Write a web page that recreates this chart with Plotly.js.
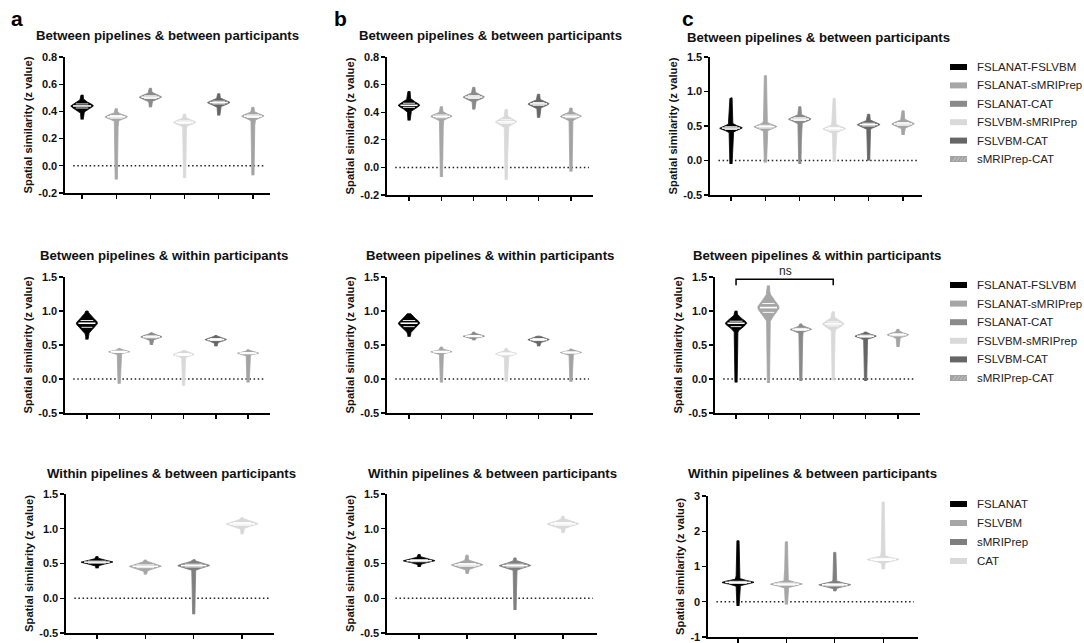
<!DOCTYPE html>
<html>
<head>
<meta charset="utf-8">
<script src="https://cdn.plot.ly/plotly-3.0.1.min.js"></script>
<style>html,body{margin:0;padding:0;background:#fff;}#chart{width:1084px;height:643px;}</style>
</head>
<body>
<div id="chart"></div>
<script>
// ---------------- DATA ----------------
const pairLabels = ["FSLANAT-FSLVBM","FSLANAT-sMRIPrep","FSLANAT-CAT","FSLVBM-sMRIPrep","FSLVBM-CAT","sMRIPrep-CAT"];
const pipelineLabels = ["FSLANAT","FSLVBM","sMRIPrep","CAT"];
const pairColors = ["#000000","#a6a6a6","#8a8a8a","#d9d9d9","#666666","#a3a3a3"];
const pipeColors = ["#000000","#a6a6a6","#7f7f7f","#d9d9d9"];

const titleBB = "Between pipelines & between participants";
const titleBW = "Between pipelines & within participants";
const titleWB = "Within pipelines & between participants";
const yTitle = "Spatial similarity (z value)";
const panelLetters = ["a","b","c"];

const tickVals08 = [-0.2, 0, 0.2, 0.4, 0.6, 0.8];
const tickText08 = ["-0.2","0.0","0.2","0.4","0.6","0.8"];
const tickVals15 = [-0.5, 0, 0.5, 1.0, 1.5];
const tickText15 = ["-0.5","0.0","0.5","1.0","1.5"];
const tickVals3 = [-1, 0, 1, 2, 3];
const tickText3 = ["-1","0","1","2","3"];

// a: between pipelines & between participants
const aBB_med = [0.44, 0.36, 0.505, 0.32, 0.465, 0.365];
const aBB_q1  = [0.425, 0.35, 0.495, 0.31, 0.455, 0.355];
const aBB_q3  = [0.455, 0.37, 0.515, 0.33, 0.475, 0.375];
const aBB_min = [0.34, -0.10, 0.43, -0.09, 0.37, -0.07];
const aBB_max = [0.52, 0.42, 0.57, 0.38, 0.53, 0.43];
// b: between pipelines & between participants
const bBB_med = [0.45, 0.37, 0.51, 0.33, 0.46, 0.37];
const bBB_q1  = [0.435, 0.36, 0.50, 0.32, 0.45, 0.36];
const bBB_q3  = [0.465, 0.38, 0.52, 0.345, 0.47, 0.38];
const bBB_min = [0.34, -0.07, 0.42, -0.09, 0.36, -0.03];
const bBB_max = [0.55, 0.44, 0.58, 0.42, 0.53, 0.43];
// c: between pipelines & between participants
const cBB_med = [0.47, 0.49, 0.60, 0.46, 0.52, 0.53];
const cBB_q1  = [0.45, 0.47, 0.58, 0.44, 0.50, 0.51];
const cBB_q3  = [0.49, 0.51, 0.62, 0.48, 0.54, 0.55];
const cBB_min = [-0.05, -0.03, -0.05, -0.02, 0.0, 0.37];
const cBB_max = [0.91, 1.23, 0.78, 0.90, 0.67, 0.72];

// a: between pipelines & within participants
const aBW_med = [0.82, 0.40, 0.62, 0.36, 0.58, 0.38];
const aBW_q1  = [0.76, 0.39, 0.605, 0.345, 0.565, 0.37];
const aBW_q3  = [0.86, 0.41, 0.635, 0.375, 0.595, 0.39];
const aBW_min = [0.58, -0.07, 0.50, -0.10, 0.48, -0.05];
const aBW_max = [1.00, 0.45, 0.68, 0.42, 0.64, 0.43];
// b
const bBW_med = [0.82, 0.40, 0.63, 0.37, 0.58, 0.39];
const bBW_q1  = [0.77, 0.39, 0.62, 0.355, 0.565, 0.38];
const bBW_q3  = [0.86, 0.41, 0.64, 0.385, 0.595, 0.40];
const bBW_min = [0.62, -0.05, 0.57, -0.04, 0.48, -0.04];
const bBW_max = [0.96, 0.47, 0.69, 0.45, 0.63, 0.44];
// c
const cBW_med = [0.82, 1.05, 0.73, 0.81, 0.63, 0.65];
const cBW_q1  = [0.77, 0.98, 0.715, 0.78, 0.615, 0.635];
const cBW_q3  = [0.85, 1.11, 0.745, 0.84, 0.645, 0.665];
const cBW_min = [-0.05, -0.06, -0.03, -0.02, -0.03, 0.47];
const cBW_max = [1.00, 1.37, 0.81, 0.99, 0.69, 0.73];

// a: within pipelines & between participants
const aWB_med = [0.52, 0.46, 0.47, 1.07];
const aWB_q1  = [0.505, 0.44, 0.45, 1.05];
const aWB_q3  = [0.535, 0.48, 0.49, 1.09];
const aWB_min = [0.43, 0.34, -0.23, 0.92];
const aWB_max = [0.60, 0.55, 0.56, 1.16];
// b
const bWB_med = [0.54, 0.48, 0.47, 1.07];
const bWB_q1  = [0.525, 0.46, 0.45, 1.05];
const bWB_q3  = [0.555, 0.50, 0.49, 1.09];
const bWB_min = [0.45, 0.35, -0.17, 0.94];
const bWB_max = [0.63, 0.62, 0.58, 1.18];
// c
const cWB_med = [0.55, 0.50, 0.48, 1.20];
const cWB_q1  = [0.52, 0.47, 0.45, 1.17];
const cWB_q3  = [0.58, 0.53, 0.51, 1.23];
const cWB_min = [-0.12, -0.08, 0.30, 0.92];
const cWB_max = [1.73, 1.70, 1.40, 2.83];

// ---------------- LAYOUT GEOMETRY (pixels) ----------------
const FW = 1084, FH = 643;
const FONT = "Liberation Sans, Arial, sans-serif";
const fx = p => p / FW;
const fy = p => 1 - p / FH;

const panels = [
  {title:titleBB, cx:167, ty:35, ax:[65,270], ay:[57,193], xr:[-0.5,5.5], yr:[-0.2,0.8], tv:tickVals08, tt:tickText08, cats:pairLabels, cols:pairColors,
   med:aBB_med,q1:aBB_q1,q3:aBB_q3,mn:aBB_min,mx:aBB_max},
  {title:titleBB, cx:490, ty:35, ax:[387,593], ay:[57,195], xr:[-0.68,5.68], yr:[-0.2,0.8], tv:tickVals08, tt:tickText08, cats:pairLabels, cols:pairColors,
   med:bBB_med,q1:bBB_q1,q3:bBB_q3,mn:bBB_min,mx:bBB_max},
  {title:titleBB, cx:818, ty:37, ax:[710,922], ay:[57,195], xr:[-0.61,5.55], yr:[-0.5,1.5], tv:tickVals15, tt:tickText15, cats:pairLabels, cols:pairColors,
   med:cBB_med,q1:cBB_q1,q3:cBB_q3,mn:cBB_min,mx:cBB_max, legend:[67,18.4]},
  {title:titleBW, cx:164, ty:255, ax:[65,270], ay:[277,413], xr:[-0.68,5.68], yr:[-0.5,1.5], tv:tickVals15, tt:tickText15, cats:pairLabels, cols:pairColors,
   med:aBW_med,q1:aBW_q1,q3:aBW_q3,mn:aBW_min,mx:aBW_max},
  {title:titleBW, cx:490, ty:255, ax:[387,593], ay:[277,413], xr:[-0.68,5.68], yr:[-0.5,1.5], tv:tickVals15, tt:tickText15, cats:pairLabels, cols:pairColors,
   med:bBW_med,q1:bBW_q1,q3:bBW_q3,mn:bBW_min,mx:bBW_max},
  {title:titleBW, cx:817, ty:255, ax:[715,920], ay:[277,413], xr:[-0.65,5.68], yr:[-0.5,1.5], tv:tickVals15, tt:tickText15, cats:pairLabels, cols:pairColors,
   med:cBW_med,q1:cBW_q1,q3:cBW_q3,mn:cBW_min,mx:cBW_max, legend:[285,18.6], ns:true},
  {title:titleWB, cx:171, ty:473, ax:[66,274], ay:[494,633], xr:[-0.64,3.66], yr:[-0.5,1.5], tv:tickVals15, tt:tickText15, cats:pipelineLabels, cols:pipeColors,
   med:aWB_med,q1:aWB_q1,q3:aWB_q3,mn:aWB_min,mx:aWB_max},
  {title:titleWB, cx:492, ty:473, ax:[387,597], ay:[494,633], xr:[-0.67,3.71], yr:[-0.5,1.5], tv:tickVals15, tt:tickText15, cats:pipelineLabels, cols:pipeColors,
   med:bWB_med,q1:bWB_q1,q3:bWB_q3,mn:bWB_min,mx:bWB_max},
  {title:titleWB, cx:812, ty:473, ax:[708,918], ay:[496,637], xr:[-0.62,3.72], yr:[-1,3], tv:tickVals3, tt:tickText3, cats:pipelineLabels, cols:pipeColors,
   med:cWB_med,q1:cWB_q1,q3:cWB_q3,mn:cWB_min,mx:cWB_max, legend:[504,19]}
];

const traces = [];
const layout = {
  width: FW, height: FH, margin:{l:0,r:0,t:0,b:0},
  paper_bgcolor:"#fff", plot_bgcolor:"rgba(0,0,0,0)",
  showlegend:false, font:{family:FONT, color:"#000"},
  shapes:[], annotations:[]
};

function violinShape(i, med, q1, q3, mn, mx, spX) {
  const W = 0.33;
  const s0 = 2.0 / spX;
  const sig = Math.max(q3 - q1, 1e-4) / 1.3;
  const hwAt = y => {
    const d = y - med;
    const body = W * Math.exp(-0.5 * Math.pow(Math.abs(d) / sig, 1.8));
    const span = d < 0 ? (med - mn) : (mx - med);
    const tail = s0 * (1 - 0.45 * Math.min(1, Math.abs(d) / Math.max(span, 1e-6)));
    return Math.max(body, tail);
  };
  const ys = [];
  const N = 300;
  for (let k = 0; k <= N; k++) ys.push(mn + (mx - mn) * k / N);
  ys.push(med); ys.sort((a, c) => a - c);
  const xs = [], yy = [];
  ys.forEach(y => { xs.push(i + hwAt(y)); yy.push(y); });
  for (let k = ys.length - 1; k >= 0; k--) { xs.push(i - hwAt(ys[k])); yy.push(ys[k]); }
  return {xs, yy, hwAt};
}

panels.forEach((p, k) => {
  const n = k + 1;
  const xa = "x" + n, ya = "y" + n;
  const xKey = n === 1 ? "xaxis" : "xaxis" + n;
  const yKey = n === 1 ? "yaxis" : "yaxis" + n;
  const spX = (p.ax[1] - p.ax[0]) / (p.xr[1] - p.xr[0]);
  layout[xKey] = {
    domain:[fx(p.ax[0]), fx(p.ax[1])], range:p.xr, anchor:ya,
    showline:true, linecolor:"#000", linewidth:1.6, mirror:false,
    ticks:"outside", ticklen:4, tickwidth:1.3, tickcolor:"#000",
    tickvals:p.cats.map((c, i) => i), showticklabels:false,
    showgrid:false, zeroline:false, fixedrange:true
  };
  layout[yKey] = {
    domain:[fy(p.ay[1]), fy(p.ay[0])], range:p.yr, anchor:xa,
    showline:true, linecolor:"#000", linewidth:1.6,
    ticks:"outside", ticklen:4, tickwidth:1.3, tickcolor:"#000",
    tickvals:p.tv, ticktext:p.tt,
    tickfont:{family:FONT, size:11, weight:"bold", color:"#111"},
    title:{text:yTitle, font:{family:FONT, size:11.2, weight:"bold", color:"#111"}, standoff:3},
    showgrid:false, zeroline:false, fixedrange:true
  };
  // zero dotted line
  layout.shapes.push({type:"line", xref:xa + " domain", yref:ya, x0:0.04, x1:0.98, y0:0, y1:0,
    line:{color:"#222", width:1.5, dash:"1.5px,2.6px"}, layer:"below"});
  // violins
  p.cats.forEach((c, i) => {
    const v = violinShape(i, p.med[i], p.q1[i], p.q3[i], p.mn[i], p.mx[i], spX);
    traces.push({type:"scatter", mode:"lines", x:v.xs, y:v.yy, xaxis:xa, yaxis:ya,
      fill:"toself", fillcolor:p.cols[i], line:{color:p.cols[i], width:0.8},
      hoverinfo:"skip", showlegend:false, name:c});
    [[p.med[i], 1.6, 0.8], [p.q1[i], 0.9, 0.7], [p.q3[i], 0.9, 0.7]].forEach(([yv, lw, f]) => {
      const h = v.hwAt(yv) * f;
      traces.push({type:"scatter", mode:"lines", x:[i - h, i + h], y:[yv, yv], xaxis:xa, yaxis:ya,
        line:{color:"#ffffff", width:lw}, hoverinfo:"skip", showlegend:false});
    });
  });
  // panel title
  layout.annotations.push({text:p.title, xref:"paper", yref:"paper", x:fx(p.cx), y:fy(p.ty),
    xanchor:"center", yanchor:"middle", showarrow:false,
    font:{family:FONT, size:13.2, weight:"bold", color:"#111"}});
  // legend
  if (p.legend) {
    p.cats.forEach((c, i) => {
      const yc = p.legend[0] + i * p.legend[1];
      layout.shapes.push({type:"rect", xref:"paper", yref:"paper",
        x0:fx(950), x1:fx(967), y0:fy(yc + 3), y1:fy(yc - 3),
        fillcolor:p.cols[i], line:{width:0}});
      if (c === "sMRIPrep-CAT") {
        for (let h = 0; h < 4; h++) {
          layout.shapes.push({type:"line", xref:"paper", yref:"paper",
            x0:fx(953 + h * 3.5), x1:fx(956 + h * 3.5), y0:fy(yc + 2), y1:fy(yc - 2),
            line:{color:"#d0d0d0", width:0.8}});
        }
      }
      layout.annotations.push({text:c, xref:"paper", yref:"paper", x:fx(975), y:fy(yc),
        xanchor:"left", yanchor:"middle", showarrow:false,
        font:{family:FONT, size:11.5, color:"#222"}});
    });
  }
  if (p.ns) {
    layout.shapes.push({type:"path", xref:xa, yref:ya,
      path:"M 0 1.38 L 0 1.466 L 3 1.466 L 3 1.38", line:{color:"#000", width:1.5}});
    layout.annotations.push({text:"ns", xref:"paper", yref:"paper", x:fx(785), y:fy(271),
      showarrow:false, xanchor:"center", yanchor:"middle",
      font:{family:FONT, size:12, color:"#222"}});
  }
});

// panel letters
[[17, 19], [340, 19], [688, 19]].forEach((pos, i) => {
  layout.annotations.push({text:panelLetters[i], xref:"paper", yref:"paper", x:fx(pos[0]), y:fy(pos[1]),
    xanchor:"center", yanchor:"middle", showarrow:false,
    font:{family:FONT, size:21, weight:"bold", color:"#000"}});
});

Plotly.newPlot("chart", traces, layout, {displayModeBar:false, staticPlot:true});
</script>
</body>
</html>
